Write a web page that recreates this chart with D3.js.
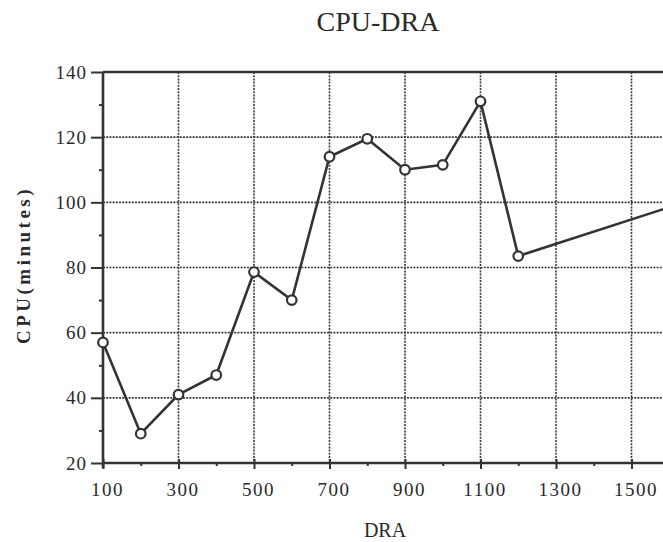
<!DOCTYPE html>
<html>
<head>
<meta charset="utf-8">
<script src="https://cdn.jsdelivr.net/npm/d3@7"></script>
<style>
  html, body { margin: 0; padding: 0; background: #fff; }
  svg { display: block; }
  text { font-family: "Liberation Serif", "DejaVu Serif", serif; fill: #2a2a2a; }
</style>
</head>
<body>
<svg id="chart" width="663" height="542"></svg>
<script>
const title = "CPU-DRA";
const xLabel = "DRA";
const yLabel = "CPU(minutes)";
const dra = [100, 200, 300, 400, 500, 600, 700, 800, 900, 1000, 1100, 1200, 1600];
const cpu = [57, 29, 41, 47, 78.6, 70, 114, 119.5, 110, 111.5, 131, 83.5, 98.5];
const xTicks = [100, 300, 500, 700, 900, 1100, 1300, 1500];
const xMinorTicks = [200, 400, 600, 800, 1000, 1200, 1400];
const yTicks = [20, 40, 60, 80, 100, 120, 140];
const yMinorTicks = [30, 50, 70, 90, 110, 130];

(function () {
const svg = d3.select("#chart");
const mLeft = 103, mTop = 72, mBottom = 463;

const x = d3.scaleLinear().domain([100, 1600]).range([mLeft, mLeft + 1500 * 0.3775]);
const y = d3.scaleLinear().domain([20, 140]).range([mBottom, mTop]);

const ink = "#333";

// gridlines
const grid = svg.append("g");
grid.selectAll("line.gx").data(xTicks.slice(1)).join("line")
  .attr("x1", d => x(d)).attr("x2", d => x(d))
  .attr("y1", mTop).attr("y2", mBottom)
  .attr("stroke", "#3a3a3a").attr("stroke-width", 1.6).attr("stroke-dasharray", "2,1.2");
grid.selectAll("line.gy").data(yTicks.slice(1, -1)).join("line")
  .attr("x1", mLeft).attr("x2", 663)
  .attr("y1", d => y(d)).attr("y2", d => y(d))
  .attr("stroke", "#3a3a3a").attr("stroke-width", 1.6).attr("stroke-dasharray", "2,1.2");

// top border
svg.append("line").attr("x1", mLeft).attr("x2", 663).attr("y1", y(140)).attr("y2", y(140))
  .attr("stroke", ink).attr("stroke-width", 2.4);

// x axis
const xAxis = d3.axisBottom(x).tickValues(xTicks).tickSize(6).tickFormat(d3.format("d")).tickPadding(14);
const gx = svg.append("g").attr("transform", `translate(0,${mBottom})`).call(xAxis);
gx.select(".domain").attr("d", `M${mLeft},0H663`).attr("stroke", ink).attr("stroke-width", 2.6);
gx.selectAll(".tick line").attr("stroke", ink).attr("stroke-width", 2).attr("y1", -4);
gx.selectAll(".tick text").attr("font-size", 19).attr("letter-spacing", "1.5px")
  .attr("font-family", "Liberation Serif, serif").attr("fill", "#2a2a2a").attr("dx", "4px");
const xMinor = d3.axisBottom(x).tickValues(xMinorTicks).tickSize(3).tickFormat("");
const gxm = svg.append("g").attr("transform", `translate(0,${mBottom})`).call(xMinor);
gxm.select(".domain").remove();
gxm.selectAll(".tick line").attr("stroke", ink).attr("stroke-width", 2);

// y axis
const yAxis = d3.axisLeft(y).tickValues(yTicks).tickSize(12).tickFormat(d3.format("d")).tickPadding(4);
const gy = svg.append("g").attr("transform", `translate(${mLeft},0)`).call(yAxis);
gy.select(".domain").attr("d", `M0,${mTop}V${mBottom + 5}`).attr("stroke", ink).attr("stroke-width", 2.6);
gy.selectAll(".tick line").attr("stroke", ink).attr("stroke-width", 2);
gy.selectAll(".tick text").attr("font-size", 19).attr("letter-spacing", "1px")
  .attr("font-family", "Liberation Serif, serif").attr("fill", "#2a2a2a");
const yMinor = d3.axisLeft(y).tickValues(yMinorTicks).tickSize(4).tickFormat("");
const gym = svg.append("g").attr("transform", `translate(${mLeft},0)`).call(yMinor);
gym.select(".domain").remove();
gym.selectAll(".tick line").attr("stroke", ink).attr("stroke-width", 2);

// line
const pts = dra.map((d, i) => [d, cpu[i]]);
svg.append("path").datum(pts)
  .attr("d", d3.line().x(d => x(d[0])).y(d => y(d[1])))
  .attr("fill", "none").attr("stroke", ink).attr("stroke-width", 2.6);
svg.selectAll("circle.pt").data(pts).join("circle")
  .attr("cx", d => x(d[0])).attr("cy", d => y(d[1])).attr("r", 4.8)
  .attr("fill", "#fff").attr("stroke", ink).attr("stroke-width", 2.2);

// titles
svg.append("text").attr("x", 378).attr("y", 31).attr("text-anchor", "middle")
  .attr("font-size", 28).text(title);
svg.append("text").attr("x", 385).attr("y", 537).attr("text-anchor", "middle")
  .attr("font-size", 20).text(xLabel);
svg.append("text").attr("transform", "translate(30,265) rotate(-90)")
  .attr("text-anchor", "middle").attr("font-size", 19).attr("font-weight", "bold")
  .attr("letter-spacing", "3.5px").text(yLabel);
})();
</script>
</body>
</html>
